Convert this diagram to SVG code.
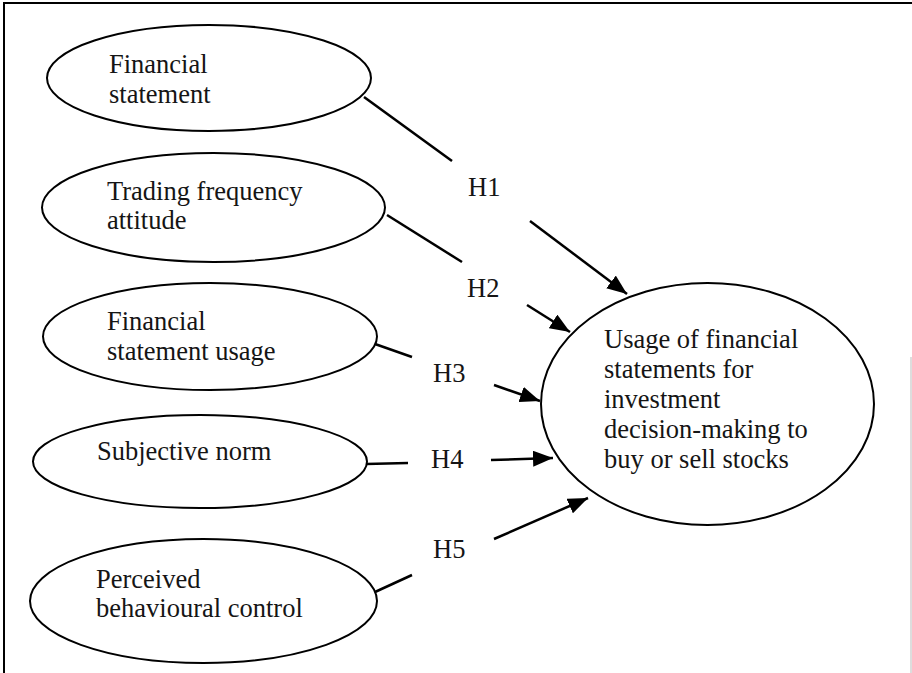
<svg xmlns="http://www.w3.org/2000/svg" width="912" height="673" viewBox="0 0 912 673">
<style>
.n{fill:#fff;stroke:#000;stroke-width:2}
.t{font-family:"Liberation Serif","Times New Roman",serif;font-size:26.5px;fill:#151515}
.c{stroke:#000;stroke-width:2.5;fill:none}
</style>
<defs>
<marker id="ah" markerUnits="userSpaceOnUse" markerWidth="20" markerHeight="16" viewBox="0 0 20 16" refX="20" refY="8" orient="auto">
<path d="M0,0 L20,8 L0,16 Z" fill="#000"/>
</marker>
</defs>
<rect width="912" height="673" fill="#fff"/>
<g id="frame">
<path d="M4,673 L4,3 L912,3" stroke="#000" stroke-width="2" fill="none"/>
<line x1="911" y1="357" x2="911" y2="673" stroke="#bbb" stroke-width="1"/>
</g>
<g id="connectors">
<line class="c" x1="364" y1="97" x2="452" y2="161"/>
<line class="c" x1="530" y1="221" x2="627" y2="294" marker-end="url(#ah)"/>
<line class="c" x1="387" y1="215" x2="462" y2="262"/>
<line class="c" x1="527" y1="305" x2="570" y2="332" marker-end="url(#ah)"/>
<line class="c" x1="375" y1="344" x2="412" y2="357"/>
<line class="c" x1="494" y1="385" x2="540" y2="401" marker-end="url(#ah)"/>
<line class="c" x1="366" y1="464" x2="408" y2="463"/>
<line class="c" x1="491" y1="460" x2="553" y2="458" marker-end="url(#ah)"/>
<line class="c" x1="375" y1="592" x2="412" y2="575"/>
<line class="c" x1="494" y1="539" x2="588" y2="498" marker-end="url(#ah)"/>
<text class="t" x="468" y="196">H1</text>
<text class="t" x="467" y="297">H2</text>
<text class="t" x="433" y="382">H3</text>
<text class="t" x="431" y="468">H4</text>
<text class="t" x="433" y="558">H5</text>
</g>
<g id="n1">
<ellipse class="n" cx="209" cy="78" rx="162" ry="53"/>
<text class="t" x="109" y="73">Financial</text>
<text class="t" x="109" y="103">statement</text>
</g>
<g id="n2">
<ellipse class="n" cx="213.5" cy="207.5" rx="171.5" ry="54.5"/>
<text class="t" x="107" y="200">Trading frequency</text>
<text class="t" x="107" y="229">attitude</text>
</g>
<g id="n3">
<ellipse class="n" cx="210" cy="336.5" rx="167" ry="53.5"/>
<text class="t" x="107" y="330">Financial</text>
<text class="t" x="107" y="360">statement usage</text>
</g>
<g id="n4">
<ellipse class="n" cx="200" cy="461.5" rx="167" ry="46.5"/>
<text class="t" x="97" y="460">Subjective norm</text>
</g>
<g id="n5">
<ellipse class="n" cx="203.5" cy="601" rx="173.5" ry="62"/>
<text class="t" x="96" y="588">Perceived</text>
<text class="t" x="96" y="617">behavioural control</text>
</g>
<g id="target">
<ellipse class="n" cx="707.5" cy="404" rx="166.5" ry="121"/>
<text class="t" x="604" y="348">Usage of financial</text>
<text class="t" x="604" y="378">statements for</text>
<text class="t" x="604" y="408">investment</text>
<text class="t" x="604" y="438">decision-making to</text>
<text class="t" x="604" y="468">buy or sell stocks</text>
</g>
</svg>
